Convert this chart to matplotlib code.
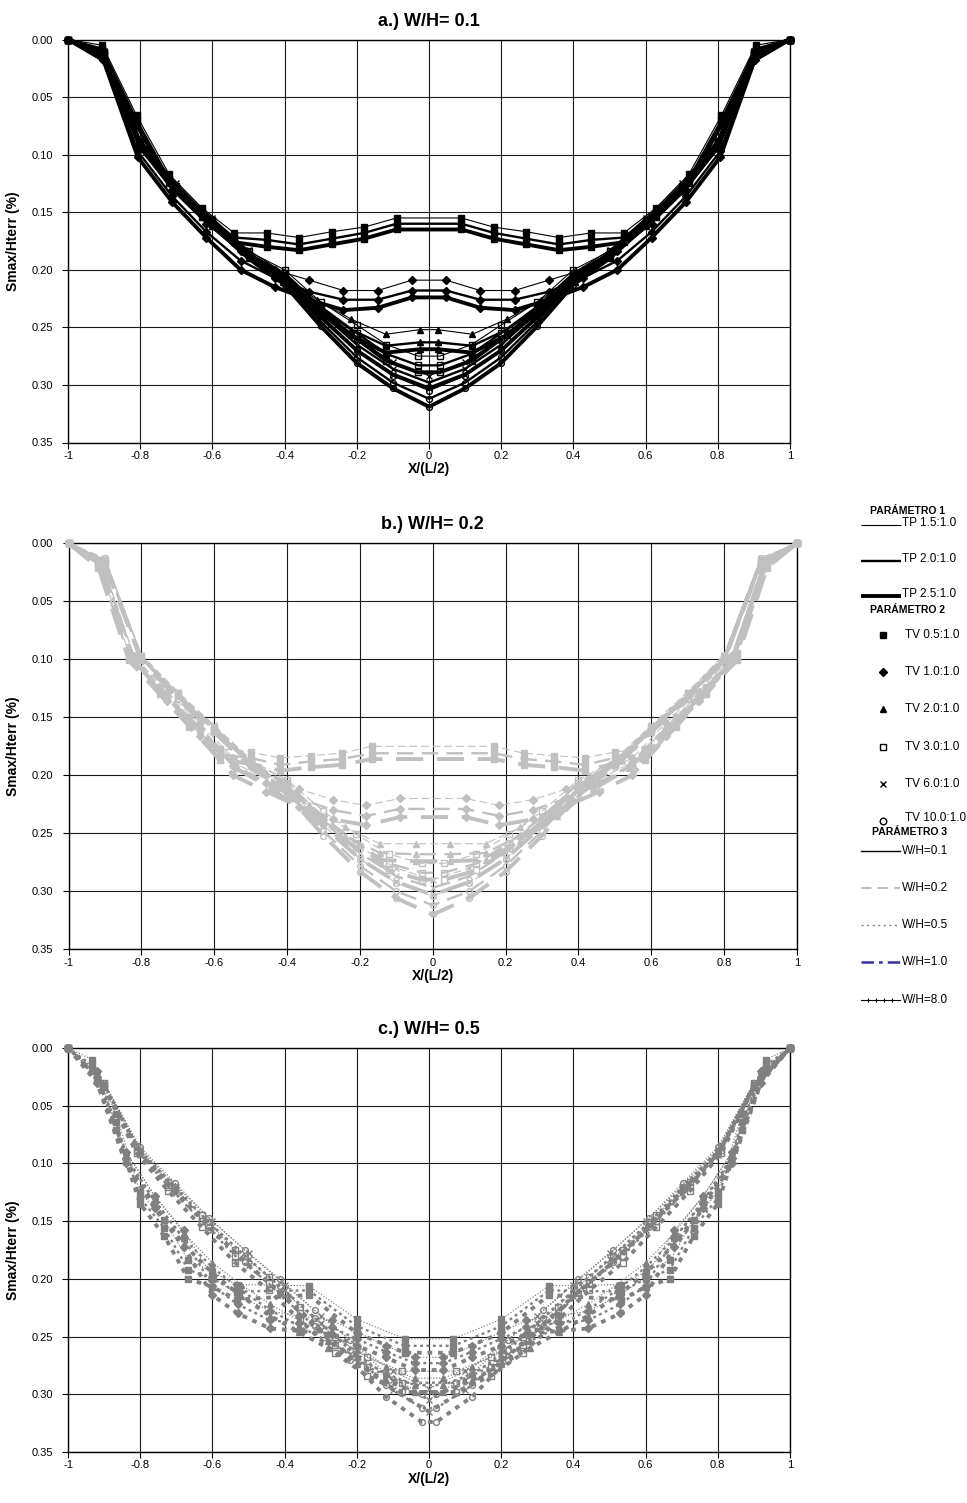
import matplotlib
matplotlib.use("Agg")
import matplotlib.pyplot as plt

plt.rcParams['font.family'] = ['Liberation Sans', 'DejaVu Sans']

PANEL_TITLES = ["a.) W/H= 0.1", "b.) W/H= 0.2", "c.) W/H= 0.5"]
TP_LABELS = ["TP 1.5:1.0", "TP 2.0:1.0", "TP 2.5:1.0"]
TV_LABELS = ["TV 0.5:1.0", "TV 1.0:1.0", "TV 2.0:1.0", "TV 3.0:1.0", "TV 6.0:1.0", "TV 10.0:1.0"]
WH_LABELS = ["W/H=0.1", "W/H=0.2", "W/H=0.5", "W/H=1.0", "W/H=8.0"]
X_TICKS = [-1, -0.8, -0.6, -0.4, -0.2, 0, 0.2, 0.4, 0.6, 0.8, 1]
X_TICK_LABELS = ["-1", "-0.8", "-0.6", "-0.4", "-0.2", "0", "0.2", "0.4", "0.6", "0.8", "1"]
Y_TICKS = [0.00, 0.05, 0.10, 0.15, 0.20, 0.25, 0.30, 0.35]

# half profiles (x >= 0); every curve is symmetric about x = 0
# rows of each *_Y list: TP 1.5, TP 2.0, TP 2.5

# ---- a.) W/H = 0.1
A_X_TV05 = [0.09, 0.18, 0.27, 0.36, 0.45, 0.54, 0.63, 0.72, 0.81, 0.905, 1.0]
A_Y_TV05 = [[0.155, 0.163, 0.167, 0.172, 0.168, 0.168, 0.146, 0.117, 0.066, 0.005, 0.0],
            [0.160, 0.168, 0.173, 0.178, 0.174, 0.172, 0.150, 0.121, 0.070, 0.008, 0.0],
            [0.165, 0.173, 0.178, 0.183, 0.180, 0.176, 0.154, 0.125, 0.074, 0.012, 0.0]]
A_X_TV1 = [0.047, 0.142, 0.237, 0.332, 0.427, 0.522, 0.617, 0.712, 0.807, 0.902, 1.0]
A_Y_TV1 = [[0.209, 0.218, 0.218, 0.209, 0.200, 0.184, 0.160, 0.131, 0.092, 0.012, 0.0],
           [0.218, 0.226, 0.226, 0.219, 0.207, 0.192, 0.167, 0.136, 0.097, 0.015, 0.0],
           [0.224, 0.233, 0.235, 0.226, 0.215, 0.200, 0.172, 0.141, 0.102, 0.018, 0.0]]
A_X_TV2 = [0.025, 0.12, 0.215, 0.31, 0.405, 0.5, 0.6, 0.7, 0.8, 0.9, 1.0]
A_Y_TV2 = [[0.252, 0.256, 0.243, 0.226, 0.205, 0.186, 0.158, 0.128, 0.090, 0.012, 0.0],
           [0.263, 0.266, 0.252, 0.232, 0.208, 0.188, 0.160, 0.130, 0.092, 0.013, 0.0],
           [0.269, 0.272, 0.257, 0.236, 0.211, 0.190, 0.162, 0.132, 0.094, 0.014, 0.0]]
A_X_TV3 = [0.03, 0.118, 0.2, 0.3, 0.4, 0.5, 0.6, 0.7, 0.8, 0.9, 1.0]
A_Y_TV3 = [[0.275, 0.265, 0.248, 0.228, 0.200, 0.184, 0.157, 0.127, 0.088, 0.011, 0.0],
           [0.283, 0.273, 0.255, 0.232, 0.203, 0.186, 0.158, 0.128, 0.089, 0.012, 0.0],
           [0.289, 0.279, 0.260, 0.236, 0.206, 0.188, 0.160, 0.130, 0.091, 0.013, 0.0]]
A_X_TV6 = [0.0, 0.1, 0.2, 0.3, 0.4, 0.5, 0.6, 0.7, 0.8, 0.9, 1.0]
A_Y_TV6 = [[0.292, 0.280, 0.260, 0.233, 0.203, 0.183, 0.155, 0.125, 0.087, 0.010, 0.0],
           [0.298, 0.286, 0.265, 0.237, 0.206, 0.185, 0.157, 0.127, 0.088, 0.011, 0.0],
           [0.303, 0.291, 0.270, 0.241, 0.209, 0.187, 0.159, 0.129, 0.090, 0.012, 0.0]]
A_X_TV10 = [0.0, 0.1, 0.2, 0.3, 0.4, 0.5, 0.6, 0.7, 0.8, 0.9, 1.0]
A_Y_TV10 = [[0.305, 0.292, 0.270, 0.240, 0.207, 0.186, 0.157, 0.127, 0.088, 0.010, 0.0],
            [0.312, 0.298, 0.276, 0.245, 0.210, 0.188, 0.159, 0.129, 0.090, 0.011, 0.0],
            [0.319, 0.303, 0.281, 0.249, 0.213, 0.190, 0.161, 0.131, 0.092, 0.012, 0.0]]

# ---- b.) W/H = 0.2
B_X_TV05 = [0.168, 0.25, 0.334, 0.418, 0.5, 0.584, 0.668, 0.75, 0.834, 0.918, 1.0]
B_Y_TV05 = [[0.175, 0.181, 0.183, 0.185, 0.180, 0.177, 0.150, 0.124, 0.095, 0.015, 0.0],
            [0.181, 0.186, 0.188, 0.191, 0.185, 0.182, 0.154, 0.127, 0.098, 0.018, 0.0],
            [0.186, 0.191, 0.193, 0.196, 0.190, 0.187, 0.158, 0.130, 0.101, 0.021, 0.0]]
B_X_TV1 = [0.09, 0.183, 0.274, 0.366, 0.457, 0.548, 0.64, 0.73, 0.82, 0.91, 1.0]
B_Y_TV1 = [[0.220, 0.226, 0.221, 0.212, 0.200, 0.185, 0.155, 0.128, 0.097, 0.015, 0.0],
           [0.229, 0.235, 0.230, 0.220, 0.207, 0.192, 0.160, 0.132, 0.100, 0.018, 0.0],
           [0.236, 0.243, 0.238, 0.227, 0.214, 0.200, 0.166, 0.136, 0.103, 0.021, 0.0]]
B_X_TV2 = [0.047, 0.145, 0.24, 0.34, 0.44, 0.54, 0.64, 0.73, 0.82, 0.91, 1.0]
B_Y_TV2 = [[0.259, 0.259, 0.245, 0.226, 0.206, 0.190, 0.158, 0.130, 0.098, 0.015, 0.0],
           [0.268, 0.267, 0.252, 0.231, 0.209, 0.192, 0.160, 0.132, 0.100, 0.017, 0.0],
           [0.274, 0.273, 0.257, 0.235, 0.212, 0.194, 0.162, 0.134, 0.102, 0.019, 0.0]]
B_X_TV3 = [0.03, 0.12, 0.21, 0.3, 0.4, 0.5, 0.6, 0.7, 0.8, 0.9, 1.0]
B_Y_TV3 = [[0.276, 0.268, 0.251, 0.231, 0.204, 0.187, 0.158, 0.129, 0.097, 0.014, 0.0],
           [0.284, 0.276, 0.258, 0.236, 0.207, 0.189, 0.160, 0.131, 0.099, 0.016, 0.0],
           [0.290, 0.282, 0.263, 0.240, 0.210, 0.191, 0.162, 0.133, 0.101, 0.018, 0.0]]
B_X_TV6 = [0.0, 0.1, 0.2, 0.3, 0.4, 0.5, 0.6, 0.7, 0.8, 0.9, 1.0]
B_Y_TV6 = [[0.290, 0.280, 0.262, 0.236, 0.206, 0.186, 0.157, 0.128, 0.096, 0.013, 0.0],
           [0.297, 0.287, 0.267, 0.240, 0.209, 0.188, 0.159, 0.130, 0.098, 0.015, 0.0],
           [0.303, 0.292, 0.272, 0.244, 0.212, 0.190, 0.161, 0.132, 0.100, 0.017, 0.0]]
B_X_TV10 = [0.0, 0.1, 0.2, 0.3, 0.4, 0.5, 0.6, 0.7, 0.8, 0.9, 1.0]
B_Y_TV10 = [[0.304, 0.293, 0.272, 0.243, 0.210, 0.189, 0.159, 0.130, 0.097, 0.013, 0.0],
            [0.312, 0.300, 0.278, 0.248, 0.213, 0.191, 0.161, 0.132, 0.099, 0.015, 0.0],
            [0.320, 0.306, 0.283, 0.252, 0.216, 0.193, 0.163, 0.134, 0.101, 0.017, 0.0]]

# ---- c.) W/H = 0.5
C_X_TV05 = [0.067, 0.2, 0.333, 0.533, 0.6, 0.667, 0.733, 0.8, 0.867, 0.933, 1.0]
C_Y_TV05 = [[0.252, 0.235, 0.206, 0.205, 0.194, 0.184, 0.149, 0.125, 0.057, 0.010, 0.0],
            [0.258, 0.241, 0.210, 0.211, 0.200, 0.192, 0.156, 0.130, 0.064, 0.015, 0.0],
            [0.264, 0.247, 0.214, 0.218, 0.207, 0.200, 0.163, 0.135, 0.071, 0.020, 0.0]]
C_X_TV1 = [0.04, 0.12, 0.2, 0.27, 0.36, 0.44, 0.53, 0.6, 0.68, 0.76, 0.84, 0.92, 1.0]
C_Y_TV1 = [[0.268, 0.258, 0.246, 0.236, 0.232, 0.228, 0.214, 0.198, 0.158, 0.128, 0.090, 0.020, 0.0],
           [0.273, 0.263, 0.252, 0.242, 0.238, 0.236, 0.222, 0.206, 0.165, 0.133, 0.095, 0.025, 0.0],
           [0.279, 0.268, 0.258, 0.248, 0.245, 0.243, 0.230, 0.214, 0.172, 0.139, 0.100, 0.030, 0.0]]
C_X_TV2 = [0.04, 0.12, 0.2, 0.28, 0.36, 0.44, 0.52, 0.6, 0.68, 0.76, 0.84, 0.92, 1.0]
C_Y_TV2 = [[0.286, 0.276, 0.262, 0.248, 0.236, 0.222, 0.205, 0.186, 0.160, 0.128, 0.090, 0.020, 0.0],
           [0.292, 0.282, 0.268, 0.254, 0.241, 0.227, 0.210, 0.190, 0.165, 0.132, 0.094, 0.024, 0.0],
           [0.298, 0.288, 0.274, 0.260, 0.246, 0.232, 0.215, 0.195, 0.170, 0.136, 0.098, 0.028, 0.0]]
C_X_TV3 = [0.075, 0.172, 0.261, 0.356, 0.444, 0.537, 0.63, 0.722, 0.81, 0.9, 1.0]
C_Y_TV3 = [[0.280, 0.268, 0.250, 0.224, 0.198, 0.175, 0.145, 0.116, 0.085, 0.030, 0.0],
           [0.290, 0.276, 0.257, 0.230, 0.204, 0.180, 0.150, 0.120, 0.088, 0.032, 0.0],
           [0.298, 0.284, 0.264, 0.236, 0.210, 0.186, 0.155, 0.124, 0.091, 0.034, 0.0]]
C_X_TV6 = [0.0, 0.1, 0.2, 0.3, 0.4, 0.5, 0.6, 0.7, 0.8, 0.9, 1.0]
C_Y_TV6 = [[0.295, 0.280, 0.258, 0.232, 0.205, 0.178, 0.150, 0.120, 0.088, 0.030, 0.0],
           [0.305, 0.288, 0.265, 0.238, 0.210, 0.183, 0.154, 0.123, 0.090, 0.032, 0.0],
           [0.315, 0.296, 0.272, 0.244, 0.215, 0.188, 0.158, 0.126, 0.093, 0.034, 0.0]]
C_X_TV10 = [0.02, 0.12, 0.218, 0.317, 0.414, 0.51, 0.61, 0.703, 0.8, 0.9, 1.0]
C_Y_TV10 = [[0.300, 0.282, 0.253, 0.227, 0.200, 0.175, 0.147, 0.117, 0.086, 0.030, 0.0],
            [0.312, 0.292, 0.262, 0.234, 0.206, 0.180, 0.151, 0.120, 0.089, 0.032, 0.0],
            [0.324, 0.302, 0.270, 0.241, 0.212, 0.185, 0.155, 0.123, 0.092, 0.034, 0.0]]

PANEL_X = [[A_X_TV05, A_X_TV1, A_X_TV2, A_X_TV3, A_X_TV6, A_X_TV10],
           [B_X_TV05, B_X_TV1, B_X_TV2, B_X_TV3, B_X_TV6, B_X_TV10],
           [C_X_TV05, C_X_TV1, C_X_TV2, C_X_TV3, C_X_TV6, C_X_TV10]]
PANEL_Y = [[A_Y_TV05, A_Y_TV1, A_Y_TV2, A_Y_TV3, A_Y_TV6, A_Y_TV10],
           [B_Y_TV05, B_Y_TV1, B_Y_TV2, B_Y_TV3, B_Y_TV6, B_Y_TV10],
           [C_Y_TV05, C_Y_TV1, C_Y_TV2, C_Y_TV3, C_Y_TV6, C_Y_TV10]]

# styles
MARKERS = ['s', 'D', '^', 's', 'x', 'o']
MSIZES = [4.5, 3.6, 4.5, 4.2, 4.2, 4.2]
FILLED = [True, True, True, False, False, False]
TP_WIDTHS = [0.8, 1.7, 2.8]
PANEL_COLORS = ['black', '#c0c0c0', '#808080']
PANEL_STYLES = ['-', (0, (7, 3.5)), (0, (1.2, 1.5))]

W, H = 967, 1503
# axes boxes in pixels: left, top, right, bottom
BOXES = [(68, 39.5, 790, 442.5), (68.5, 543.3, 797, 949.3), (68, 1048, 790, 1452)]


def mirror(xh, yh):
    xs = [-v for v in xh[::-1]] + list(xh)
    ys = list(yh[::-1]) + list(yh)
    if xh[0] == 0:
        k = len(xh)
        xs = xs[:k - 1] + xs[k:]
        ys = ys[:k - 1] + ys[k:]
    return xs, ys


fig = plt.figure(figsize=(W / 100, H / 100), dpi=100)

for p in range(3):
    l, t, r, b = BOXES[p]
    ax = fig.add_axes([l / W, 1 - b / H, (r - l) / W, (b - t) / H])
    col = PANEL_COLORS[p]
    for i in range(6):
        for j in range(3):
            xs, ys = mirror(PANEL_X[p][i], PANEL_Y[p][i][j])
            ax.plot(xs, ys, color=col, lw=TP_WIDTHS[j], linestyle=PANEL_STYLES[p],
                    marker=MARKERS[i], ms=MSIZES[i], mew=1.0, mec=col,
                    mfc=col if FILLED[i] else 'none', clip_on=False, zorder=3)
    ax.set_xlim(-1, 1)
    ax.set_ylim(0.35, 0.0)
    ax.set_xticks(X_TICKS)
    ax.set_xticklabels(X_TICK_LABELS)
    ax.set_yticks(Y_TICKS)
    ax.set_yticklabels(["%.2f" % v for v in Y_TICKS])
    ax.grid(True, color='#1a1a1a', lw=0.8)
    ax.set_axisbelow(True)
    for s in ax.spines.values():
        s.set_linewidth(1.0)
        s.set_color('black')
    ax.tick_params(axis='x', direction='out', length=4, width=0.8, pad=2, labelsize=8)
    ax.tick_params(axis='y', direction='out', length=4, width=0.8, pad=7, labelsize=8)
    ax.set_title(PANEL_TITLES[p], fontsize=13, fontweight='bold', pad=10)
    ax.set_xlabel("X/(L/2)", fontsize=10, fontweight='bold')
    ax.xaxis.set_label_coords(0.5, -20.0 / (b - t))
    ax.set_ylabel("Smax/Hterr (%)", fontsize=10, fontweight='bold')
    ax.yaxis.set_label_coords(-48.0 / (r - l), 0.5)

# legend drawn in pixel coordinates
lg = fig.add_axes([0, 0, 1, 1])
lg.set_xlim(0, W)
lg.set_ylim(H, 0)
lg.axis('off')

FS = 8.5
lg.text(908, 511, "PARÁMETRO 1", ha='center', va='center', fontsize=7.5, fontweight='bold')
for j, y in enumerate([525, 561, 596]):
    lg.plot([861, 901], [y, y], color='black', lw=TP_WIDTHS[j], solid_capstyle='butt')
    lg.text(902, y - 2, TP_LABELS[j], va='center', fontsize=FS)

lg.text(908, 610, "PARÁMETRO 2", ha='center', va='center', fontsize=7.5, fontweight='bold')
for i, y in enumerate([635, 672, 709, 747, 784, 821]):
    lg.plot([883], [y], linestyle='none', marker=MARKERS[i], ms=MSIZES[i] + 0.5, mew=1.0,
            color='black', mfc='black' if FILLED[i] else 'none')
    lg.text(905, y - (3 if i == 5 else 0), TV_LABELS[i], va='center', fontsize=FS)

lg.text(910, 832, "PARÁMETRO 3", ha='center', va='center', fontsize=7.5, fontweight='bold')
wh_y = [851, 888, 925, 962, 1000]
lg.plot([861, 900], [wh_y[0]] * 2, color='black', lw=1.0)
lg.plot([861, 900], [wh_y[1]] * 2, color='#c0c0c0', lw=1.5, linestyle=(0, (5, 3)))
lg.plot([861, 900], [wh_y[2]] * 2, color='#808080', lw=1.0, linestyle=(0, (1.5, 2.5)))
lg.plot([861, 900], [wh_y[3]] * 2, color='#333399', lw=1.8, linestyle=(0, (5, 2, 1.5, 2)))
lg.plot([861, 900], [wh_y[4]] * 2, color='black', lw=0.8)
lg.plot([868, 876, 884, 892], [wh_y[4]] * 4, linestyle='none', marker='|', ms=3, mew=0.8, color='black')
for k, y in enumerate(wh_y):
    lg.text(902, y, WH_LABELS[k], va='center', fontsize=FS)

fig.savefig("out.png", dpi=100)
